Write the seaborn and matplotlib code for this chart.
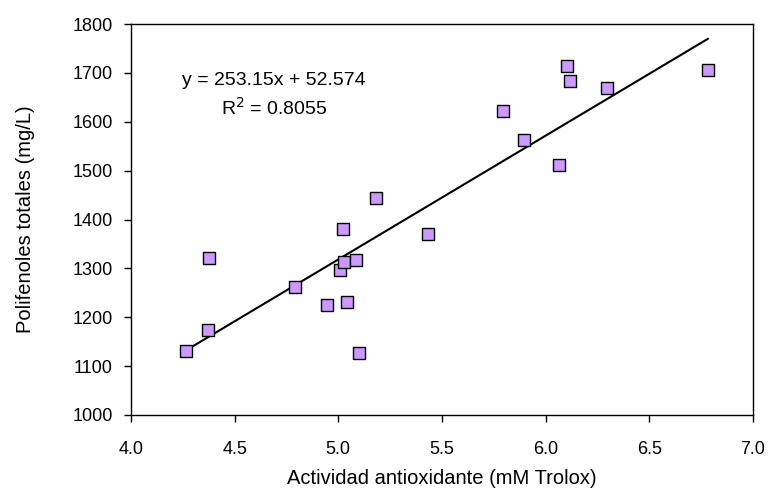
import matplotlib
matplotlib.use("Agg")
import matplotlib.pyplot as plt
import seaborn as sns
import numpy as np
import pandas as pd

actividad = [4.265, 4.373, 4.374, 4.789, 4.945, 5.007, 5.023, 5.027, 5.040, 5.086,
             5.100, 5.184, 5.431, 5.796, 5.894, 6.067, 6.103, 6.119, 6.294, 6.784]
polifenoles = [1130, 1174, 1322, 1261, 1225, 1297, 1380, 1313, 1232, 1318,
               1127, 1445, 1371, 1621, 1562, 1511, 1714, 1684, 1669, 1706]
slope = 253.15
intercept = 52.574
eq_label = "y = 253.15x + 52.574"
r2_label = "R$^2$ = 0.8055"
xticks = [4.0, 4.5, 5.0, 5.5, 6.0, 6.5, 7.0]
yticks = [1000, 1100, 1200, 1300, 1400, 1500, 1600, 1700, 1800]

df = pd.DataFrame({"x": actividad, "y": polifenoles})

sns.set_theme(style="white")
plt.rcParams["font.family"] = ["Liberation Sans", "DejaVu Sans"]

fig = plt.figure(figsize=(7.69, 4.88), dpi=100)
ax = fig.add_axes([0.1704, 0.1496, 0.8086, 0.8012])

xs = np.array([min(actividad), max(actividad)])
ax.plot(xs, slope * xs + intercept, color="black", lw=1.5, zorder=2)

sns.scatterplot(data=df, x="x", y="y", marker="s", s=75, color="#CC99FF",
                edgecolor="black", linewidth=1.0, ax=ax, zorder=3)

ax.set_xlim(4.0, 7.0)
ax.set_ylim(1000, 1800)
ax.set_xticks(xticks)
ax.set_xticklabels([f"{t:.1f}" for t in xticks])
ax.set_yticks(yticks)
ax.tick_params(axis="both", direction="out", length=5, width=1, color="black",
               labelsize=13, labelcolor="black", bottom=True, left=True)
ax.tick_params(axis="x", pad=14)
ax.tick_params(axis="y", pad=8)
for s in ax.spines.values():
    s.set_color("black")
    s.set_linewidth(1.0)

ax.set_xlabel("Actividad antioxidante (mM Trolox)", fontsize=14.5, color="black", labelpad=8)
ax.set_ylabel("Polifenoles totales (mg/L)", fontsize=14.5, color="black", labelpad=27)

ax.text(4.689, 1685, eq_label, ha="center", va="center", fontsize=14, color="black")
ax.text(4.689, 1628, r2_label, ha="center", va="center", fontsize=14, color="black")

fig.savefig("out.png", dpi=100)
